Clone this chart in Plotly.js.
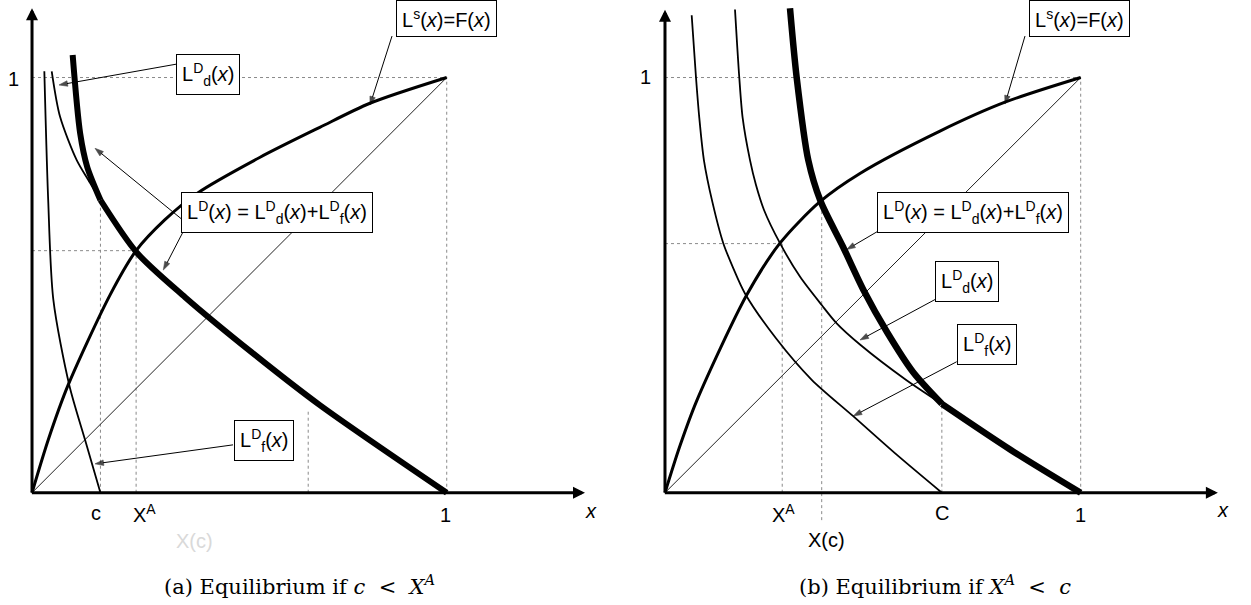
<!DOCTYPE html>
<html>
<head>
<meta charset="utf-8">
<script src="https://cdn.plot.ly/plotly-3.0.1.min.js"></script>
<style>
  html, body { margin: 0; padding: 0; background: #fff; }
  #plot { width: 1251px; height: 605px; }
</style>
</head>
<body>
<div id="plot"></div>
<script>
// ---- panel (a): c < X^A ----
const aSupplyX = [0, 0.04, 0.087, 0.188, 0.251, 0.32, 0.398, 0.55, 0.694, 0.815, 1];
const aSupplyY = [0, 0.13, 0.259, 0.476, 0.583, 0.657, 0.721, 0.808, 0.880, 0.938, 1];
const aDomX = [0.0475, 0.0675, 0.1078, 0.1358, 0.165, 0.253, 0.369, 0.53, 0.694, 1];
const aDomY = [1.015, 0.906, 0.801, 0.753, 0.705, 0.578, 0.471, 0.338, 0.211, 0];
const aForX = [0.0297, 0.039, 0.0514, 0.0899, 0.128, 0.165];
const aForY = [1.015, 0.705, 0.465, 0.259, 0.127, 0];
const aTotalX = [0.098, 0.116, 0.133, 0.165, 0.253, 0.369, 0.53, 0.694, 1];
const aTotalY = [1.054, 0.866, 0.785, 0.705, 0.578, 0.471, 0.338, 0.211, 0];
const aC = 0.165, aYC = 0.705;      // kink at c
const aXA = 0.251, aYA = 0.583;     // autarky equilibrium
const aXc = 0.666, aYXc = 0.199;    // faint X(c) guide

// ---- panel (b): X^A < c ----
const bSupplyX = [0, 0.035, 0.077, 0.1965, 0.2766, 0.3729, 0.469, 0.6615, 0.8179, 1];
const bSupplyY = [0, 0.11, 0.223, 0.476, 0.601, 0.701, 0.769, 0.871, 0.9405, 1];
const bDomX = [0.1684, 0.1787, 0.1869, 0.2045, 0.2189, 0.2382, 0.2766, 0.325, 0.377, 0.413, 0.469, 0.581, 0.666, 0.832, 1];
const bDomY = [1.164, 1.0, 0.902, 0.801, 0.741, 0.681, 0.601, 0.52, 0.452, 0.408, 0.357, 0.271, 0.214, 0.103, 0];
const bForX = [0.0642, 0.0746, 0.0826, 0.0938, 0.1138, 0.1402, 0.1644, 0.1924, 0.267, 0.353, 0.452, 0.558, 0.666];
const bForY = [1.150, 1.0, 0.902, 0.8, 0.701, 0.601, 0.5405, 0.480, 0.372, 0.272, 0.185, 0.091, 0];
const bTotalX = [0.3007, 0.3168, 0.3447, 0.3741, 0.4282, 0.4787, 0.534, 0.5966, 0.666, 0.832, 1];
const bTotalY = [1.167, 1.0, 0.801, 0.7025, 0.5925, 0.4858, 0.387, 0.2907, 0.214, 0.103, 0];
const bC = 0.666, bYC = 0.214;
const bXA = 0.282, bYA = 0.600;
const bXc = 0.377, bYXc = 0.705, bXcLow = -0.066;

const FONT = 'Liberation Sans, Arial, sans-serif';
const SERIF = 'DejaVu Serif, Liberation Serif, serif';

function line(xs, ys, width, ax, extra) {
    return Object.assign({
        x: xs, y: ys, xaxis: ax[0], yaxis: ax[1],
        type: 'scatter', mode: 'lines', hoverinfo: 'skip',
        line: {color: '#000', width: width, shape: 'spline', smoothing: 0.8}
    }, extra || {});
}

// guide segments joined with null gaps
function guides(segs, ax) {
    let xs = [], ys = [];
    segs.forEach(s => { xs.push(s[0], s[2], null); ys.push(s[1], s[3], null); });
    return {
        x: xs, y: ys, xaxis: ax[0], yaxis: ax[1], type: 'scatter', mode: 'lines',
        hoverinfo: 'skip', connectgaps: false,
        line: {color: '#8a8a8a', width: 1, dash: 'dot'}
    };
}

// thin pointer line with an arrow head at its end
function pointer(x0, y0, x1, y1, ax) {
    return {
        x: [x0, x1], y: [y0, y1], xaxis: ax[0], yaxis: ax[1], type: 'scatter',
        mode: 'lines+markers', hoverinfo: 'skip',
        line: {color: '#000', width: 1},
        marker: {symbol: ['circle', 'arrow'], size: [0, 9], angleref: 'previous',
                 color: '#000', line: {width: 0.6, color: '#000'}}
    };
}

function split(xs, ys, k, upper) {
    let px = [], py = [];
    xs.forEach((v, i) => { if (upper ? v <= k : v >= k) { px.push(v); py.push(ys[i]); } });
    return [px, py];
}

const A = ['x', 'y'], B = ['x2', 'y2'];

const aUp = split(aTotalX, aTotalY, aC, true), aLo = split(aTotalX, aTotalY, aC, false);
const bUp = split(bTotalX, bTotalY, bC, true), bLo = split(bTotalX, bTotalY, bC, false);

const traces = [
    guides([[0, 1, 1, 1], [1, 0, 1, 1], [0, aYA, aXA, aYA], [aXA, 0, aXA, aYA],
            [aC, 0, aC, aYC], [aXc, 0, aXc, aYXc]], A),
    line([0, 1], [0, 1], 1, A, {line: {color: '#222', width: 1}}),
    line(aSupplyX, aSupplyY, 3, A),
    line(aForX, aForY, 1.8, A),
    line(aDomX, aDomY, 1.8, A),
    line(aUp[0], aUp[1], 6, A),
    line(aLo[0], aLo[1], 6, A),
    pointer(0.3497, 1.0325, 0.0651, 0.982, A),
    pointer(0.3665, 0.6544, 0.1519, 0.8295, A),
    pointer(0.3665, 0.6327, 0.3166, 0.5364, A),
    pointer(0.8681, 1.0999, 0.8150, 0.9338, A),
    pointer(0.4847, 0.1153, 0.1519, 0.0695, A),

    guides([[0, 1, 1, 1], [1, 0, 1, 1], [0, bYA, bXA, bYA], [bXA, 0, bXA, bYA],
            [bXc, bXcLow, bXc, bYXc], [bC, 0, bC, bYC]], B),
    line([0, 1], [0, 1], 1, B, {line: {color: '#222', width: 1}}),
    line(bSupplyX, bSupplyY, 3, B),
    line(bForX, bForY, 1.8, B),
    line(bDomX, bDomY, 1.8, B),
    line(bUp[0], bUp[1], 6.5, B),
    line(bLo[0], bLo[1], 6.5, B),
    pointer(0.866, 1.0999, 0.8179, 0.9361, B),
    pointer(0.5172, 0.6327, 0.4371, 0.5857, B),
    pointer(0.6519, 0.4665, 0.4691, 0.3678, B),
    pointer(0.7017, 0.3155, 0.4530, 0.1847, B)
];

function text(t, x, y, ax, size, extra) {
    return Object.assign({
        text: t, x: x, y: y, xref: ax[0], yref: ax[1], showarrow: false,
        xanchor: 'center', yanchor: 'middle',
        font: {family: FONT, size: size || 20, color: '#000'}
    }, extra || {});
}

function box(t, x, y, ax) {
    return text(t, x, y, ax, 20, {bgcolor: '#fff', bordercolor: '#000', borderwidth: 1, borderpad: 5});
}

// axis line with a bold arrow head
function axisArrow(x0, y0, x1, y1, ax) {
    return {
        text: '', x: x1, y: y1, ax: x0, ay: y0, xref: ax[0], yref: ax[1],
        axref: ax[0], ayref: ax[1], showarrow: true, arrowhead: 2, arrowsize: 0.8,
        arrowwidth: 3, arrowcolor: '#000', standoff: 0, startstandoff: 0
    };
}

const LD = 'L<sup>D</sup>(<i>x</i>) = L<sup>D</sup><sub>d</sub>(<i>x</i>)+L<sup>D</sup><sub>f</sub>(<i>x</i>)';
const Ld = 'L<sup>D</sup><sub>d</sub>(<i>x</i>)';
const Lf = 'L<sup>D</sup><sub>f</sub>(<i>x</i>)';
const Ls = 'L<sup>s</sup>(<i>x</i>)=F(<i>x</i>)';
const capFont = {family: SERIF, size: 21, color: '#000'};

const annotations = [
    axisArrow(0, -0.003, 0, 1.167, A),
    axisArrow(-0.004, 0, 1.3335, 0, A),
    axisArrow(0, -0.003, 0, 1.163, B),
    axisArrow(-0.004, 0, 1.330, 0, B),

    box(Ld, 0.424, 1.007, A),
    box(LD, 0.591, 0.676, A),
    box(Ls, 0.9995, 1.142, A),
    box(Lf, 0.559, 0.125, A),

    text('1', -0.0458, 0.997, A),
    text('c', 0.154, -0.049, A),
    text('X<sup>A</sup>', 0.2715, -0.049, A),
    text('X(c)', 0.393, -0.116, A, 20, {font: {family: FONT, size: 20, color: '#d9d9d9'}}),
    text('1', 0.998, -0.054, A),
    text('<i>x</i>', 1.347, -0.043, A),
    text('(a) Equilibrium if <i>c</i>&nbsp;&nbsp;&lt;&nbsp;&nbsp;<i>X</i><sup><i>A</i></sup>', 0.646, -0.222, A, 21,
         {font: capFont}),

    box(Ls, 0.9983, 1.142, B),
    box(LD, 0.7409, 0.6749, B),
    box(Ld, 0.7258, 0.5087, B),
    box(Lf, 0.7758, 0.3581, B),

    text('1', -0.0481, 1.0012, B),
    text('X<sup>A</sup>', 0.2839, -0.049, B),
    text('X(c)', 0.389, -0.114, B),
    text('C', 0.6663, -0.049, B),
    text('1', 1.0, -0.054, B),
    text('<i>x</i>', 1.3423, -0.0417, B),
    text('(b) Equilibrium if <i>X</i><sup><i>A</i></sup>&nbsp;&nbsp;&lt;&nbsp;&nbsp;<i>c</i>', 0.6495, -0.222, B, 21,
         {font: capFont})
];

const hidden = {visible: false, showgrid: false, zeroline: false, fixedrange: true};

const layout = {
    width: 1251, height: 605,
    margin: {l: 0, r: 0, t: 0, b: 0, pad: 0},
    paper_bgcolor: '#fff', plot_bgcolor: '#fff',
    showlegend: false,
    xaxis: Object.assign({domain: [0, 0.5], range: [-0.0772, 1.4311], anchor: 'y'}, hidden),
    yaxis: Object.assign({domain: [0, 1], range: [-0.2704, 1.1867], anchor: 'x'}, hidden),
    xaxis2: Object.assign({domain: [0.5, 1], range: [-0.0950, 1.4097], anchor: 'y2'}, hidden),
    yaxis2: Object.assign({domain: [0, 1], range: [-0.2704, 1.1867], anchor: 'x2'}, hidden),
    annotations: annotations
};

Plotly.newPlot('plot', traces, layout, {staticPlot: true, displayModeBar: false});
</script>
</body>
</html>
